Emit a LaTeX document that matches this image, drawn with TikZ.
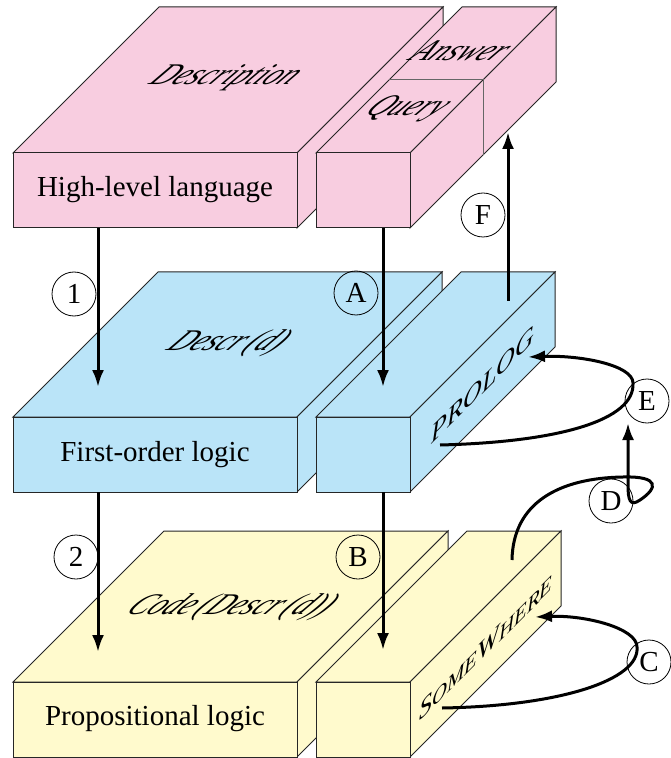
\documentclass[tikz,border=0pt]{standalone}
\usepackage{fontspec}
\setmainfont{Liberation Serif}
\usetikzlibrary{arrows.meta}
\definecolor{pinkbox}{RGB}{248,205,224}
\definecolor{bluebox}{RGB}{186,228,248}
\definecolor{yellowbox}{RGB}{255,250,205}
\tikzset{
  face/.style={draw=black!85, line width=0.5pt},
  split/.style={draw=black!60, line width=0.5pt},
  front/.style={font=\fontsize{14.5}{17}\selectfont},
  topface/.style={font=\fontsize{15}{18}\selectfont\itshape, xslant=1},
  sideface/.style={font=\fontsize{13}{15}\selectfont\itshape, yslant=1},
  lab/.style={draw, circle, line width=0.4pt, minimum size=22pt, inner sep=0pt,
    font=\fontsize{14.5}{17}\selectfont},
  arr/.style={->, >={Latex[length=8.5pt,width=6pt]}, line width=1.5pt}
}
% fill colour, x, y of front top-left corner, width, height, depth
\newcommand{\slab}[6]{%
  \filldraw[face, fill=#1] (#2,#3) -- ++(#6,-#6) -- ++(#4,0) -- ++(-#6,#6) -- cycle;
  \filldraw[face, fill=#1] (#2+#4,#3) -- ++(#6,-#6) -- ++(0,#5) -- ++(-#6,#6) -- cycle;
  \filldraw[face, fill=#1] (#2,#3) rectangle ++(#4,#5);
}

\begin{document}
\begin{tikzpicture}[x=0.5pt, y=-0.5pt]
  \useasboundingbox (0,0) rectangle (670,758);

  \slab{pinkbox}{13}{153}{284}{75}{146}
  \slab{pinkbox}{316}{153}{94}{75}{146}
  \draw[split] (389,80) -- (483,80) -- (483,155);
  \slab{bluebox}{13}{417}{284}{75}{145}
  \slab{bluebox}{316}{417}{94}{75}{145}
  \slab{yellowbox}{13}{682}{284}{75}{151}
  \slab{yellowbox}{316}{682}{94}{75}{151}

  \node[front] (hl) at (155,190) {High-level language};
  \node[front] (fo) at (155,455) {First-order logic};
  \node[front] (pl) at (155,719) {Propositional logic};

  \node[topface] (desc) at (225,78) {Description};
  \node[topface] (ans) at (462,51) {Answer};
  \node[topface] (qry) at (407,109) {Query};
  \node[topface] (dd) at (228,343) {Descr\,(d)};
  \node[topface] (cdd) at (231,607) {Code\,(Descr\,(d))};

  \node[sideface] (prolog) at (483,385) {PROLOG};
  \node[sideface] (sw) at (486,647) {S{\fontsize{10.4}{12}\selectfont OME}W{\fontsize{10.4}{12}\selectfont HERE}};

  \coordinate (s1) at (98,228);  \coordinate (e1) at (98,387);
  \coordinate (s2) at (98,492);  \coordinate (e2) at (98,652);
  \coordinate (sA) at (383,228); \coordinate (eA) at (383,387);
  \coordinate (sB) at (383,492); \coordinate (eB) at (383,650);
  \coordinate (sC) at (442,708); \coordinate (eC) at (535,617);
  \coordinate (sD) at (512,560); \coordinate (eD) at (628,423);
  \coordinate (sE) at (440,445); \coordinate (eE) at (528,357);
  \coordinate (sF) at (508,301); \coordinate (eF) at (508,132);

  \draw[arr] (s1) -- (e1);
  \draw[arr] (s2) -- (e2);
  \draw[arr] (sA) -- (eA);
  \draw[arr] (sB) -- (eB);
  \draw[arr] (sC) .. controls (560,706) and (640,680) .. (637,647)
    .. controls (637,628) and (585,615) .. (eC);
  \draw[arr] (sD) .. controls (513,502) and (560,478) .. (623,477)
    .. controls (660,476) and (658,488) .. (640,500)
    .. controls (630,507) and (628,500) .. (628,485) -- (eD);
  \draw[arr] (sE) .. controls (560,442) and (635,420) .. (633,383)
    .. controls (633,365) and (580,355) .. (eE);
  \draw[arr] (sF) -- (eF);

  \node[lab] (n1) at (74,294) {1};
  \node[lab] (n2) at (76,557) {2};
  \node[lab] (nA) at (356,293) {A};
  \node[lab] (nB) at (358,557) {B};
  \node[lab] (nC) at (649,662) {C};
  \node[lab] (nD) at (611,501) {D};
  \node[lab] (nE) at (647,401) {E};
  \node[lab] (nF) at (483,215) {F};
\end{tikzpicture}
\end{document}
